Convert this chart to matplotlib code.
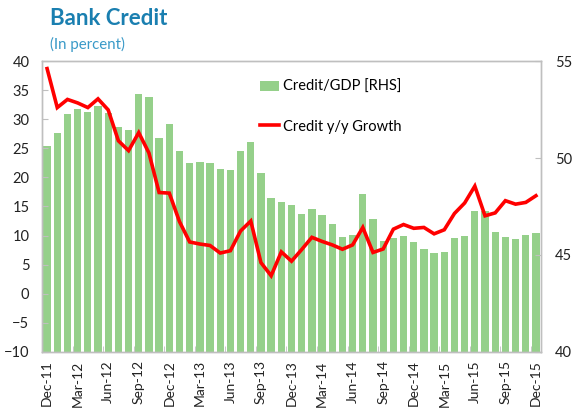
import matplotlib
matplotlib.use("Agg")
import matplotlib.pyplot as plt
import numpy as np

plt.rcParams['font.family'] = ['Lato', 'DejaVu Sans']

# monthly, Dec-11 .. Dec-15
months = ['Dec-11', 'Jan-12', 'Feb-12', 'Mar-12', 'Apr-12', 'May-12', 'Jun-12', 'Jul-12', 'Aug-12',
          'Sep-12', 'Oct-12', 'Nov-12', 'Dec-12', 'Jan-13', 'Feb-13', 'Mar-13', 'Apr-13', 'May-13',
          'Jun-13', 'Jul-13', 'Aug-13', 'Sep-13', 'Oct-13', 'Nov-13', 'Dec-13', 'Jan-14', 'Feb-14',
          'Mar-14', 'Apr-14', 'May-14', 'Jun-14', 'Jul-14', 'Aug-14', 'Sep-14', 'Oct-14', 'Nov-14',
          'Dec-14', 'Jan-15', 'Feb-15', 'Mar-15', 'Apr-15', 'May-15', 'Jun-15', 'Jul-15', 'Aug-15',
          'Sep-15', 'Oct-15', 'Nov-15', 'Dec-15']

# Credit/GDP, percent (right axis)
credit_gdp = [50.64, 51.28, 52.27, 52.51, 52.36, 52.66, 52.30, 51.61, 51.43,
              53.32, 53.14, 51.01, 51.76, 50.35, 49.75, 49.81, 49.72, 49.45,
              49.36, 50.35, 50.83, 49.24, 47.95, 47.71, 47.59, 47.11, 47.35,
              47.05, 46.60, 45.93, 46.03, 48.16, 46.84, 45.70, 45.85, 45.97,
              45.66, 45.33, 45.10, 45.13, 45.88, 45.97, 47.26, 47.29, 46.21,
              45.93, 45.82, 46.03, 46.15]

# Credit y/y growth, percent (left axis)
credit_growth = [38.7, 32.0, 33.4, 32.8, 32.0, 33.5, 31.6, 26.3, 24.6,
                 27.7, 24.2, 17.4, 17.3, 12.4, 8.9, 8.55, 8.3, 7.0,
                 7.4, 10.8, 12.5, 5.35, 3.1, 7.2, 5.6, 7.6, 9.7,
                 9.0, 8.4, 7.65, 8.4, 11.4, 7.1, 7.7, 11.1, 11.9,
                 11.25, 11.4, 10.3, 11.0, 13.8, 15.6, 18.5, 13.4, 13.9,
                 16.0, 15.4, 15.7, 16.85]

x = np.arange(len(months))
grid_col = '#bfbfbf'

fig = plt.figure(figsize=(5.8, 4.18), dpi=100)
ax = fig.add_axes([0.0724, 0.158, 0.8604, 0.696])
ax2 = ax.twinx()

bars = ax2.bar(x, credit_gdp, width=0.72, color='#95d08a', label='Credit/GDP [RHS]')
line, = ax.plot(x, credit_growth, color='#ff0000', lw=2.6, label='Credit y/y Growth',
                solid_joinstyle='miter')

# line above bars
ax.set_zorder(ax2.get_zorder() + 1)
ax.patch.set_visible(False)

ax.set_xlim(-0.5, len(months) - 0.5)
ax.set_ylim(-10, 40)
ax.set_yticks(np.arange(-10, 41, 5))
ax2.set_ylim(40, 55)
ax2.set_yticks([40, 45, 50, 55])

ax.set_xticks(x[::3])
ax.set_xticklabels(months[::3], rotation=90)
ax.set_xticks(np.arange(2.5, len(months), 3), minor=True)
ax.tick_params(axis='x', which='major', length=0, pad=6, labelsize=10, colors='#222222')
ax.tick_params(axis='x', which='minor', length=4, direction='in', color=grid_col)
ax.tick_params(axis='y', length=4, direction='in', color=grid_col, labelsize=10.5,
               labelcolor='#222222', pad=9)
ax2.tick_params(axis='y', length=4, direction='in', color=grid_col, labelsize=10.5,
                labelcolor='#222222', pad=10)

for a in (ax, ax2):
    for s in a.spines.values():
        s.set_color(grid_col)
        s.set_linewidth(1.0)

ax.legend([bars, line], ['Credit/GDP [RHS]', 'Credit y/y Growth'], loc='upper left',
          bbox_to_anchor=(0.425, 0.955), frameon=False, fontsize=10.5, labelspacing=1.75,
          handlelength=1.3, handletextpad=0.3, borderaxespad=0)

fig.text(0.086, 0.955, 'Bank Credit', fontsize=16, fontweight='bold', color='#1a7fb0',
         va='center', ha='left')
fig.text(0.086, 0.893, '(In percent)', fontsize=10.8, color='#3a9ac8', va='center', ha='left')

fig.savefig('out.png', dpi=100)
